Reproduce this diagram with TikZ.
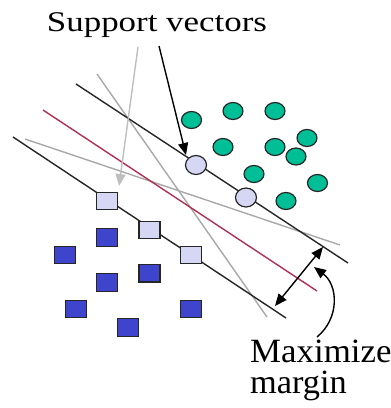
\documentclass[tikz,border=0pt]{standalone}
\usepackage{fontspec}
\setmainfont{Liberation Serif}
\usetikzlibrary{shapes.geometric,arrows.meta}
\definecolor{svgreen}{RGB}{0,190,150}
\definecolor{svlav}{RGB}{214,214,245}
\definecolor{svblue}{RGB}{62,68,204}
\definecolor{svred}{RGB}{176,48,84}
\definecolor{svgray}{RGB}{168,168,168}
\definecolor{svlgray}{RGB}{190,190,190}
\begin{document}
\begin{tikzpicture}[x=1pt,y=-1pt,
  hyper/.style={line width=1.4pt, black!85},
  altline/.style={line width=1.4pt, svgray},
  midline/.style={line width=1.4pt, svred},
  dot/.style={ellipse, draw=black!85, line width=1.2pt, minimum width=20pt, minimum height=17pt, inner sep=0pt},
  posdot/.style={dot, fill=svgreen},
  svdot/.style={dot, fill=svlav, minimum width=21pt, minimum height=19pt},
  box/.style={rectangle, draw=black!85, line width=1.2pt, minimum width=21pt, minimum height=17.5pt, inner sep=0pt},
  negbox/.style={box, fill=svblue},
  svbox/.style={box, fill=svlav},
  blackarrow/.style={line width=1.4pt, black, -{Triangle[width=10pt,length=12pt]}},
  grayarrow/.style={line width=1.4pt, svlgray, -{Triangle[width=10pt,length=12pt]}},
  marginarrow/.style={line width=1.4pt, black, {Triangle[width=10pt,length=12pt]}-{Triangle[width=10pt,length=12pt]}},
  label/.style={inner sep=0pt, text=black}
]
\useasboundingbox (0,0) rectangle (391,408);

% hyperplane end points
\coordinate (up1) at (76,84);
\coordinate (up2) at (348,263);
\coordinate (lo1) at (13,137);
\coordinate (lo2) at (286,318);
\coordinate (md1) at (43,110);
\coordinate (md2) at (317,291);
\coordinate (gs1) at (97,74);
\coordinate (gs2) at (267,317);
\coordinate (gf1) at (25,139);
\coordinate (gf2) at (340,245);

% candidate separating lines
\draw[altline] (gs1) -- (gs2);
\draw[altline] (gf1) -- (gf2);
\draw[midline] (md1) -- (md2);
\draw[hyper] (up1) -- (up2);
\draw[hyper] (lo1) -- (lo2);

% positive class
\node[posdot] (p1) at (191.5,120) {};
\node[posdot] (p2) at (233,111) {};
\node[posdot] (p3) at (275,111) {};
\node[posdot] (p4) at (307,138) {};
\node[posdot] (p5) at (223,147) {};
\node[posdot] (p6) at (275,147) {};
\node[posdot] (p7) at (296,156.5) {};
\node[posdot] (p8) at (254,174) {};
\node[posdot] (p9) at (317.5,183) {};
\node[posdot] (p10) at (286,201) {};
\node[svdot] (sv1) at (196,165) {};
\node[svdot] (sv2) at (246,197.5) {};

% negative class
\node[negbox] (n1) at (107,237.5) {};
\node[negbox] (n2) at (65.3,255) {};
\node[negbox] (n3) at (149.5,273.3) {};
\node[negbox] (n4) at (107,282.5) {};
\node[negbox] (n5) at (76.2,309) {};
\node[negbox] (n6) at (128.3,327.5) {};
\node[negbox] (n7) at (191.3,309) {};
\node[svbox] (sb1) at (107,201) {};
\node[svbox] (sb2) at (149.5,230) {};
\node[svbox] (sb3) at (191.3,255) {};

% labels
\node[label, anchor=base] (svtext) at (157,31)
  {\fontsize{28.5}{30}\selectfont\scalebox{1.225}[1]{Support vectors}};
\node[label, anchor=base west] (maxtext) at (250,362)
  {\fontsize{34}{34}\selectfont\scalebox{1.025}[1]{Maximize}};
\node[label, anchor=base west] (margintext) at (250,393)
  {\fontsize{34}{34}\selectfont\scalebox{1.01}[1]{margin}};

% arrows
\coordinate (ga0) at (138,47);
\coordinate (ga1) at (119,186);
\coordinate (ba0) at (159,46);
\coordinate (ba1) at (186,155);
\coordinate (ma0) at (275,306);
\coordinate (ma1) at (323,247);
\coordinate (ca0) at (317,337);
\coordinate (ca1) at (314,267);

\draw[grayarrow] (ga0) -- (ga1);
\draw[blackarrow] (ba0) -- (ba1);
\draw[marginarrow] (ma0) -- (ma1);
\draw[blackarrow] (ca0) .. controls (340,318) and (338,285) .. (ca1);
\end{tikzpicture}
\end{document}
